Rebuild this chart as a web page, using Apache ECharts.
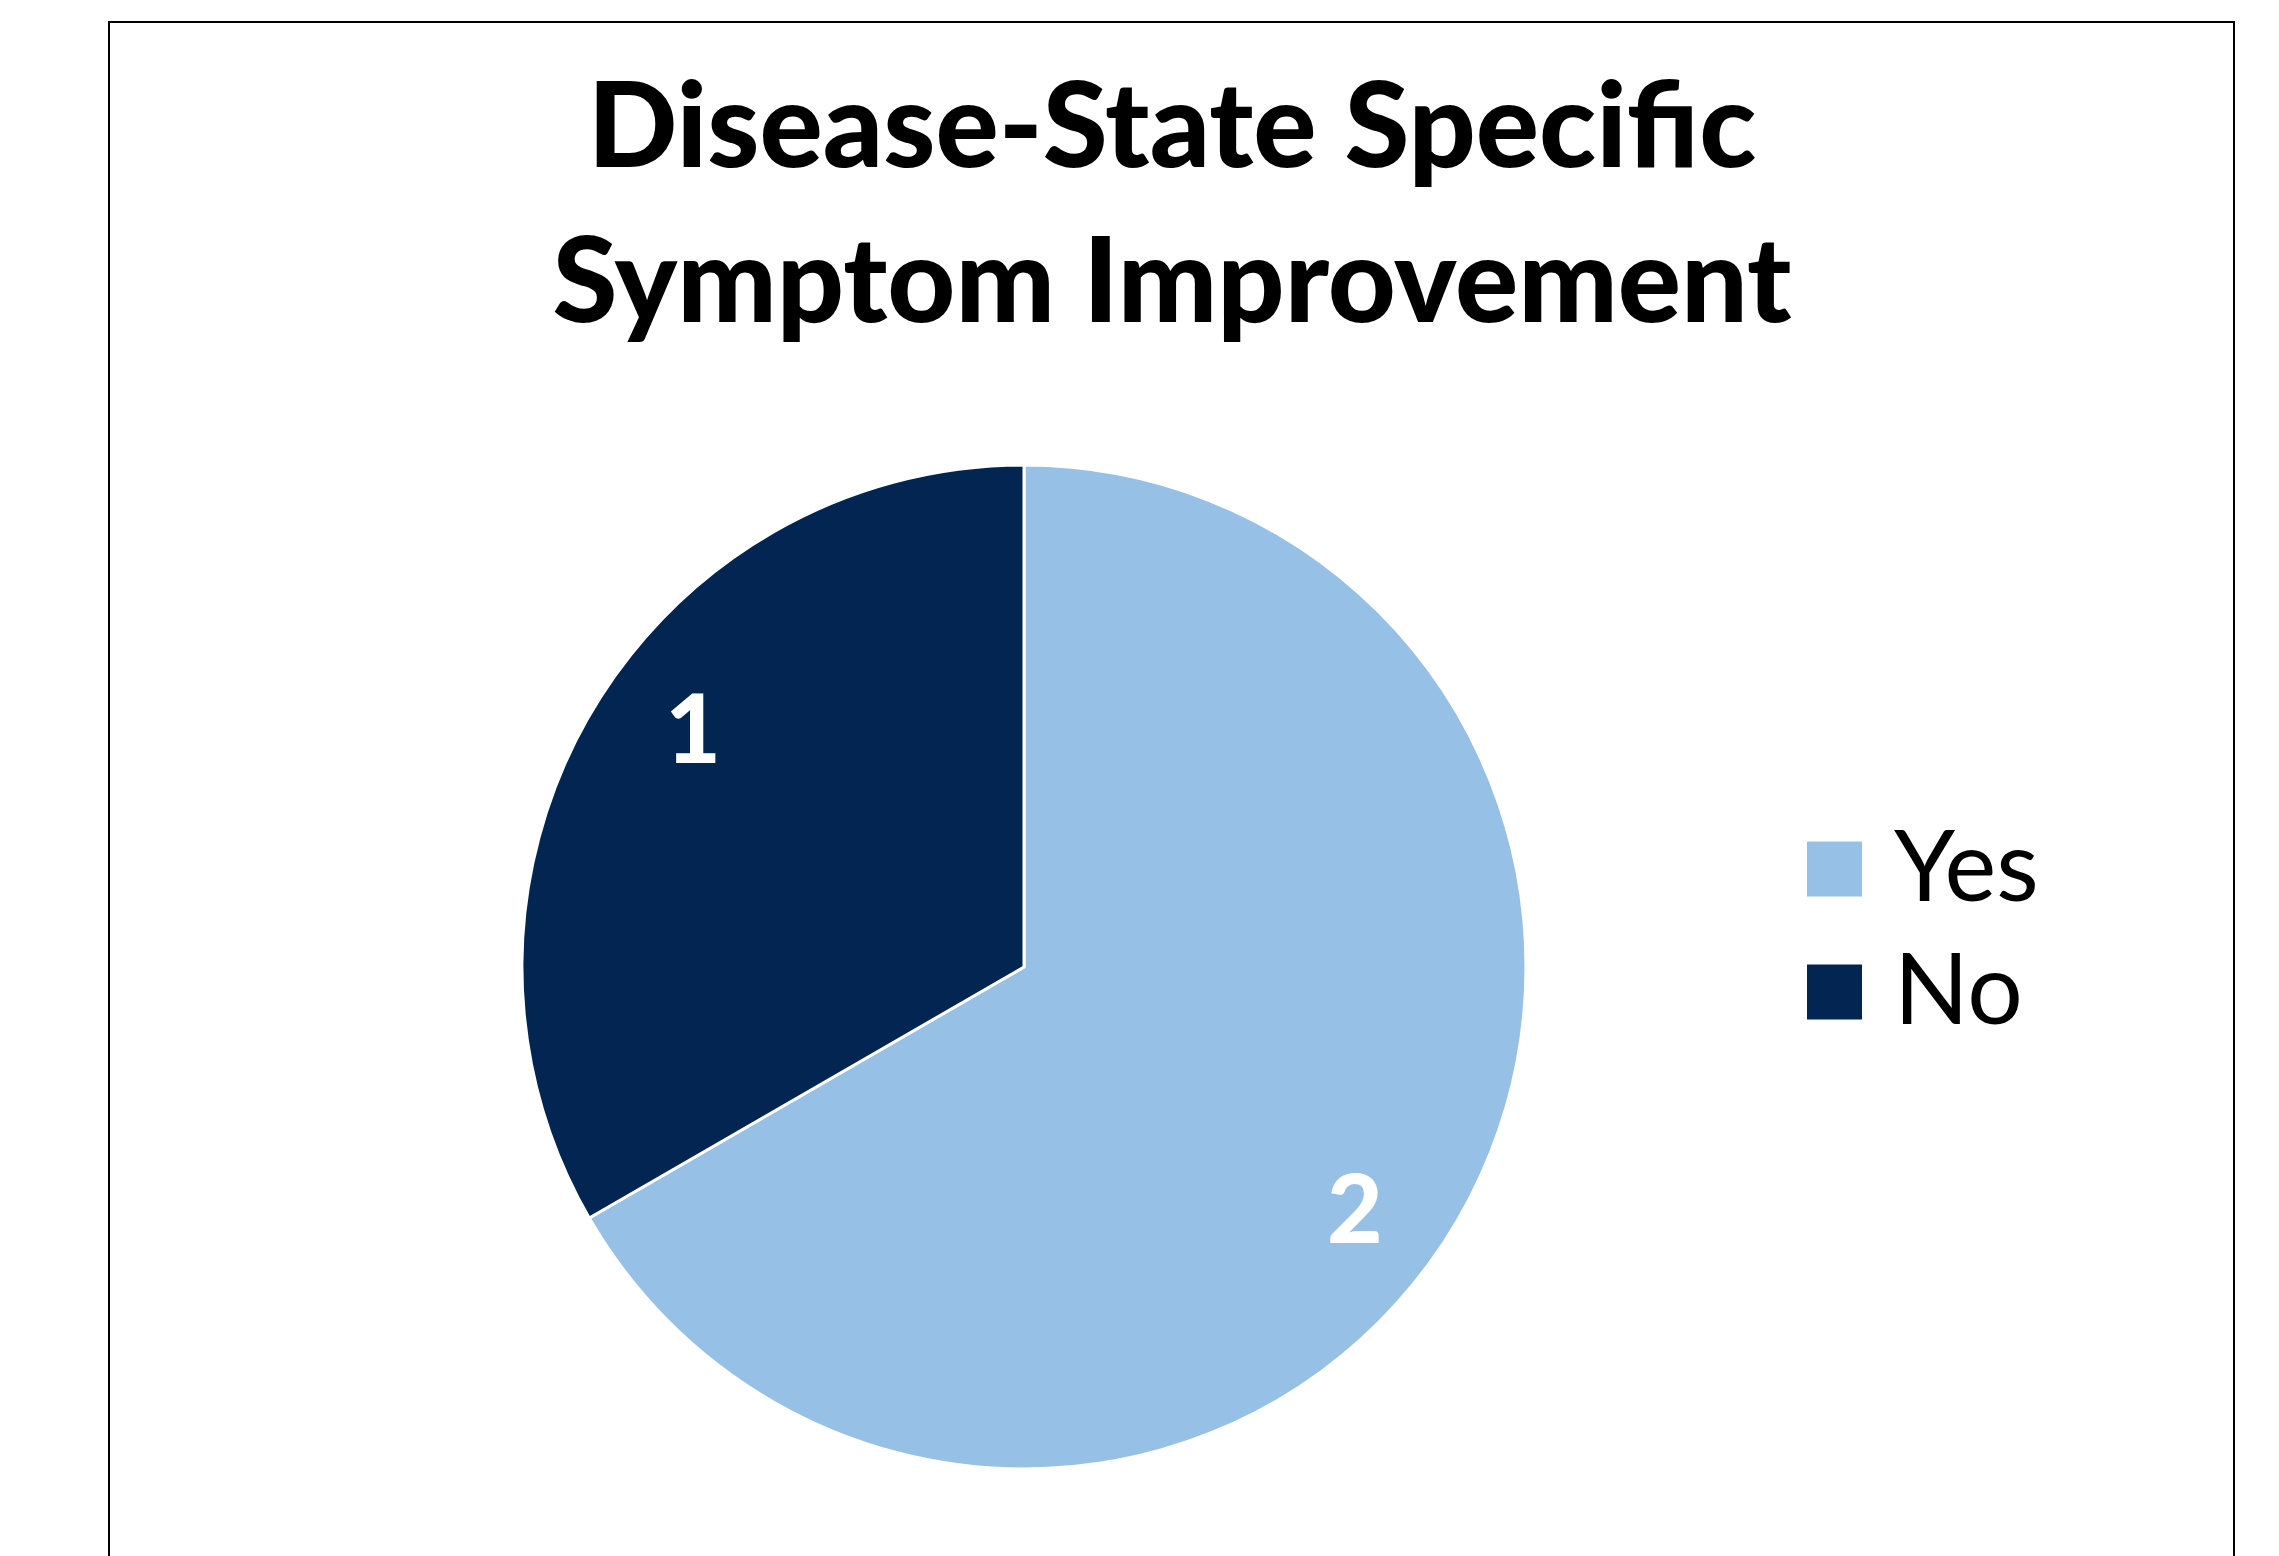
<!DOCTYPE html>
<html>
<head>
  <meta charset="UTF-8">
  <title>Disease-State Specific Symptom Improvement</title>
  <style>
    html, body { margin: 0; padding: 0; background: #fff; }
    #chart { width: 2279px; height: 1556px; }
  </style>
</head>
<body>
<div id="chart"></div>
<script src="https://cdn.jsdelivr.net/npm/echarts@6/dist/echarts.min.js"></script>
<script>
  const titleText = 'Disease-State Specific\nSymptom Improvement';
  const categories = ['Yes', 'No'];
  const counts = [2, 1];
  const sliceColors = ['#97C0E6', '#022551'];

  const chart = echarts.init(document.getElementById('chart'));

  const pieData = categories.map((name, i) => ({
    name: name,
    value: counts[i],
    itemStyle: {color: sliceColors[i]}
  }));

  chart.setOption({
    animation: false,
    backgroundColor: '#fff',
    legend: {
      orient: 'vertical',
      left: 1805,
      top: 820,
      padding: 0,
      icon: 'rect',
      itemWidth: 57,
      itemHeight: 57,
      itemGap: 25,
      selectedMode: false,
      data: categories,
      textStyle: {
        fontFamily: 'Lato',
        fontSize: 98,
        color: '#000',
        padding: [8, 0, 0, 26]
      }
    },
    graphic: [
      {
        type: 'rect',
        shape: {x: 109, y: 22, width: 2125, height: 1600},
        style: {fill: 'none', stroke: '#000', lineWidth: 2},
        silent: true,
        z: -1
      },
      {
        // chart title, centred on the frame rather than the page
        type: 'text',
        x: 1172,
        y: 51,
        silent: true,
        style: {
          text: titleText,
          align: 'center',
          verticalAlign: 'top',
          fontFamily: 'Lato',
          fontWeight: 900,
          fontSize: 118,
          lineHeight: 155,
          fill: '#000'
        }
      }
    ],
    series: [
      {
        type: 'pie',
        center: [1024, 967],
        radius: [0, 502],
        startAngle: 90,
        clockwise: true,
        data: pieData,
        label: {show: false},
        labelLine: {show: false},
        emphasis: {disabled: true},
        itemStyle: {borderColor: '#fff', borderWidth: 3}
      },
      {
        // transparent ring that only carries the value labels, out toward the rim
        type: 'pie',
        center: [1024, 967],
        radius: [310, 502],
        startAngle: 84,
        clockwise: true,
        silent: true,
        data: categories.map((name, i) => ({name: name, value: counts[i]})),
        itemStyle: {color: 'rgba(0,0,0,0)', borderWidth: 0},
        label: {
          show: true,
          position: 'inside',
          formatter: '{c}',
          offset: [0, 5],
          color: '#fff',
          fontFamily: 'Lato',
          fontWeight: 900,
          fontSize: 96
        },
        labelLine: {show: false},
        emphasis: {disabled: true}
      }
    ]
  });
</script>
</body>
</html>
